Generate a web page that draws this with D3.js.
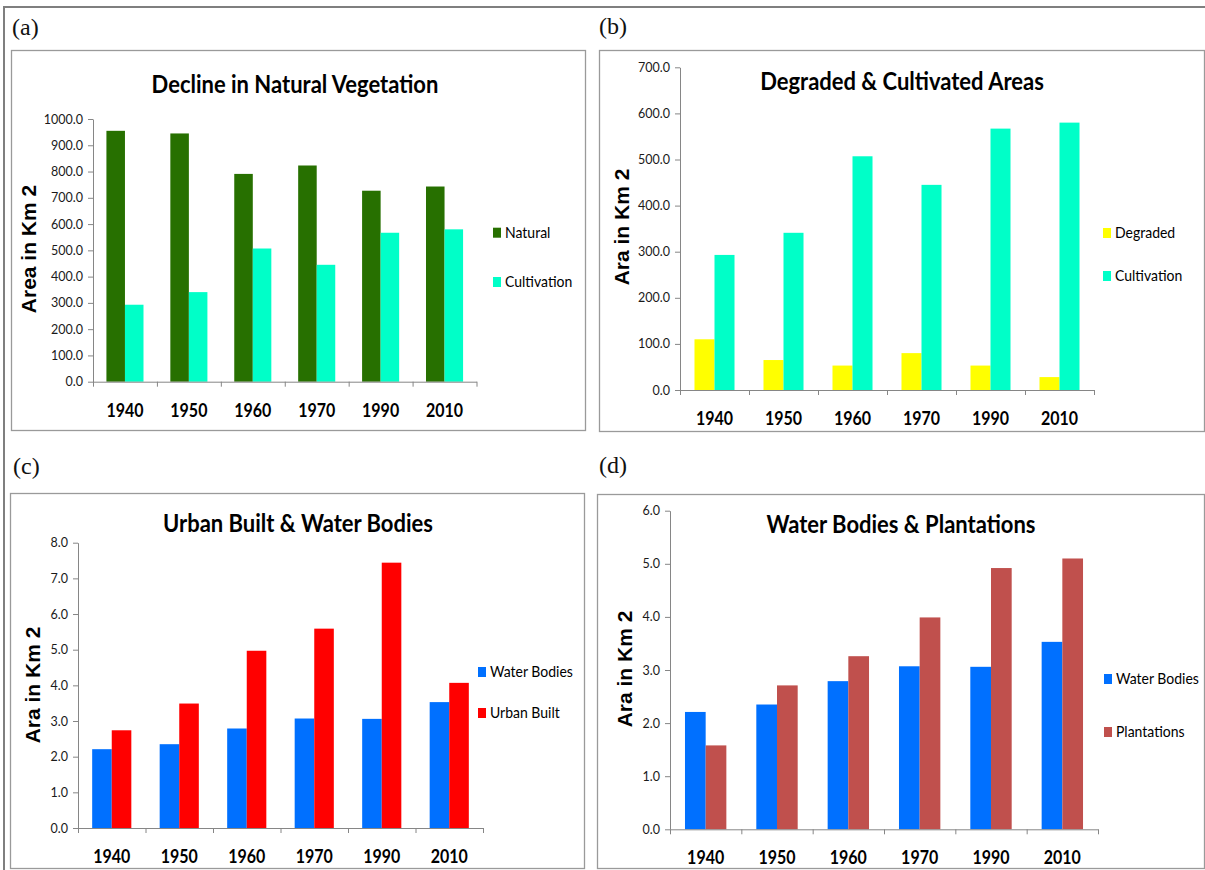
<!DOCTYPE html>
<html><head><meta charset="utf-8">
<script src="https://cdn.jsdelivr.net/npm/d3@7"></script>
<style>
body{margin:0;background:#fff}
svg{display:block}
</style>
</head><body>
<svg id="chart" width="1205" height="870"></svg>
<script>
// ---------- data ----------
const years = ["1940", "1950", "1960", "1970", "1990", "2010"];
const natural = [955, 945, 791, 823, 727, 743];
const cultivation = [293, 341, 507, 445, 567, 580];
const degraded = [110, 65, 53, 80, 53, 28];
const waterBodies = [2.21, 2.35, 2.79, 3.07, 3.06, 3.53];
const urbanBuilt = [2.74, 3.49, 4.97, 5.59, 7.44, 4.07];
const plantations = [1.58, 2.71, 3.26, 3.99, 4.92, 5.10];

const ticksA = [0, 100, 200, 300, 400, 500, 600, 700, 800, 900, 1000];
const ticksB = [0, 100, 200, 300, 400, 500, 600, 700];
const ticksC = [0, 1, 2, 3, 4, 5, 6, 7, 8];
const ticksD = [0, 1, 2, 3, 4, 5, 6];

const titles = ["Decline in Natural Vegetation", "Degraded & Cultivated Areas",
                "Urban Built & Water Bodies", "Water Bodies & Plantations"];
const panelLabels = ["(a)", "(b)", "(c)", "(d)"];
const axisTitles = ["Area in Km 2", "Ara in Km 2", "Ara in Km 2", "Ara in Km 2"];

// ---------- colours ----------
const C = {natural: "#277000", cultivation: "#00FFC8", degraded: "#FFFF00",
           water: "#0070FF", urban: "#FF0000", plant: "#C0504D"};

// ---------- layout ----------
const panels = [
  {label: panelLabels[0], title: titles[0], yTitle: axisTitles[0],
   box: [11, 50, 574, 380], labelPos: [12, 35],
   left: 93, right: 476.5, y0: 381.7, yTop: 119, max: 1000, ticks: ticksA,
   titlePos: [295, 93], legendX: 493, legendRows: [232.7, 282], yTitlePos: [28.5, 249],
   series: [{name: "Natural", values: natural, color: C.natural},
            {name: "Cultivation", values: cultivation, color: C.cultivation}]},
  {label: panelLabels[1], title: titles[1], yTitle: axisTitles[1],
   box: [599, 50, 605, 381], labelPos: [599, 34],
   left: 680, right: 1094, y0: 390, yTop: 67.3, max: 700, ticks: ticksB,
   titlePos: [902, 90], legendX: 1103, legendRows: [233, 276], yTitlePos: [621, 227],
   series: [{name: "Degraded", values: degraded, color: C.degraded},
            {name: "Cultivation", values: cultivation, color: C.cultivation}]},
  {label: panelLabels[2], title: titles[2], yTitle: axisTitles[2],
   box: [10, 493, 574, 375], labelPos: [13, 474],
   left: 78, right: 483, y0: 828, yTop: 542.7, max: 8, ticks: ticksC,
   titlePos: [298, 532], legendX: 478, legendRows: [672, 713], yTitlePos: [32, 685],
   series: [{name: "Water Bodies", values: waterBodies, color: C.water},
            {name: "Urban Built", values: urbanBuilt, color: C.urban}]},
  {label: panelLabels[3], title: titles[3], yTitle: axisTitles[3],
   box: [597, 494, 607, 374], labelPos: [599, 473],
   left: 670, right: 1098, y0: 829.3, yTop: 510.7, max: 6, ticks: ticksD,
   titlePos: [901, 533], legendX: 1104, legendRows: [679, 732], yTitlePos: [624, 669],
   series: [{name: "Water Bodies", values: waterBodies, color: C.water},
            {name: "Plantations", values: plantations, color: C.plant}]}
];

const FONT = "Lato, 'Open Sans', sans-serif";
const svg = d3.select("#chart");
svg.append("rect").attr("width", 1205).attr("height", 870).attr("fill", "#fff");

// outer frame (top and left)
svg.append("path").attr("d", "M4,870V7H1205").attr("fill", "none")
   .attr("stroke", "#7f7f7f").attr("stroke-width", 2);

// text placed at (x,y) with a slight vertical stretch (tall, narrow look of the original)
function stretched(g, x, y, sy) {
  return g.append("text").attr("transform", `translate(${x},${y}) scale(1,${sy})`);
}

function drawPanel(p) {
  const g = svg.append("g");
  g.append("rect").attr("x", p.box[0] + 0.5).attr("y", p.box[1] + 0.5)
   .attr("width", p.box[2]).attr("height", p.box[3])
   .attr("fill", "#fff").attr("stroke", "#9a9a9a").attr("stroke-width", 1.3);

  svg.append("text").attr("x", p.labelPos[0]).attr("y", p.labelPos[1])
   .attr("font-family", "'Liberation Serif', 'Times New Roman', serif")
   .attr("font-size", 24).attr("fill", "#111").text(p.label);

  const x0 = d3.scaleBand().domain(years).range([p.left, p.right])
    .paddingInner(0.42).paddingOuter(0.21);
  const x1 = d3.scaleBand().domain(d3.range(p.series.length)).range([0, x0.bandwidth()]);
  const y = d3.scaleLinear().domain([0, p.max]).range([p.y0, p.yTop]);

  // bars
  p.series.forEach((s, i) => {
    g.selectAll(null).data(s.values).join("rect")
      .attr("x", (d, j) => x0(years[j]) + x1(i))
      .attr("y", d => y(d))
      .attr("width", x1.bandwidth())
      .attr("height", d => y(0) - y(d))
      .attr("fill", s.color);
  });

  // y axis
  const ya = g.append("g").attr("transform", `translate(${p.left},0)`)
    .call(d3.axisLeft(y).tickValues(p.ticks).tickFormat(d3.format(".1f"))
      .tickSize(5).tickSizeOuter(0).tickPadding(5));
  ya.attr("font-family", FONT).attr("font-size", 12.5);
  ya.selectAll("path,line").attr("stroke", "#868686");
  ya.selectAll("text").attr("fill", "#1a1a1a");

  // x axis (category boundary ticks)
  const xb = d3.scaleLinear().domain([0, years.length]).range([p.left, p.right]);
  const xa = g.append("g").attr("transform", `translate(0,${p.y0})`)
    .call(d3.axisBottom(xb).tickValues(d3.range(years.length + 1)).tickFormat("")
      .tickSize(5).tickSizeOuter(0));
  xa.selectAll("path,line").attr("stroke", "#868686");

  // category labels
  years.forEach(d => {
    stretched(g, x0(d) + x0.bandwidth() / 2, p.y0 + 35, 1.2)
      .attr("text-anchor", "middle")
      .attr("font-family", FONT).attr("font-weight", "bold").attr("font-size", 16)
      .attr("fill", "#000").text(d);
  });

  // title
  stretched(g, p.titlePos[0], p.titlePos[1], 1.08)
    .attr("text-anchor", "middle").attr("font-family", FONT)
    .attr("font-weight", "bold").attr("font-size", 22).attr("fill", "#000")
    .text(p.title);

  // y-axis title
  g.append("text")
    .attr("transform", `translate(${p.yTitlePos[0]},${p.yTitlePos[1]}) rotate(-90)`)
    .attr("text-anchor", "middle").attr("dominant-baseline", "central")
    .attr("font-family", "'Liberation Sans', Arial, sans-serif")
    .attr("font-weight", "bold").attr("font-size", 21).attr("fill", "#000")
    .text(p.yTitle);

  // legend
  p.series.forEach((s, i) => {
    const ry = p.legendRows[i];
    g.append("rect").attr("x", p.legendX).attr("y", ry - 5)
      .attr("width", 8).attr("height", 10).attr("fill", s.color);
    stretched(g, p.legendX + 12, ry + 5, 1.15)
      .attr("font-family", FONT)
      .attr("font-size", 14).attr("fill", "#000").text(s.name);
  });
}

panels.forEach(drawPanel);
</script>
</body></html>
